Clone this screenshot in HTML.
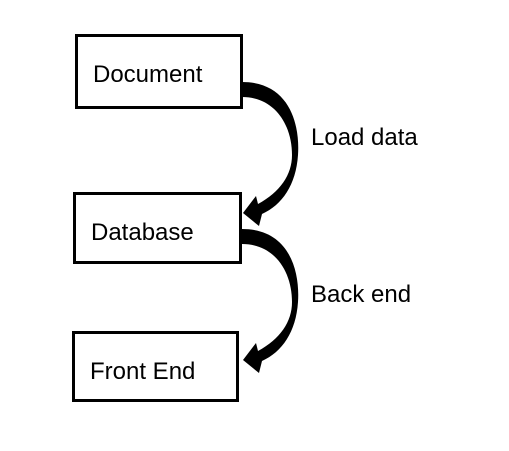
<!DOCTYPE html>
<html><head><style>
html,body{margin:0;padding:0;background:#fff;}
body{width:509px;height:451px;position:relative;overflow:hidden;font-family:"Liberation Sans",sans-serif;}
.box{position:absolute;border:3px solid #000;box-sizing:border-box;background:#fff;}
.t{position:absolute;font-size:24px;color:#000;white-space:nowrap;}
</style></head><body>
<div class="box" style="left:75px;top:34px;width:168px;height:75px"></div>
<div class="box" style="left:73px;top:192px;width:169px;height:72px"></div>
<div class="box" style="left:72px;top:331px;width:167px;height:71px"></div>
<div class="t" style="left:93px;top:61px">Document</div>
<div class="t" style="left:91px;top:219px">Database</div>
<div class="t" style="left:90px;top:358px">Front End</div>
<div class="t" style="left:311px;top:124px">Load data</div>
<div class="t" style="left:311px;top:281px">Back end</div>
<svg width="509" height="451" style="position:absolute;left:0;top:0">
<path id="a" d="M242,82 C290,82 300,125 298,155 C296,185 282,205 262,214 L259,226 L243,213 L256,196 L258,204 C280,192 292,175 292,155 C292,125 275,97 242,97 Z" fill="#000"/>
<use href="#a" transform="translate(0,147)"/>
</svg>
</body></html>
